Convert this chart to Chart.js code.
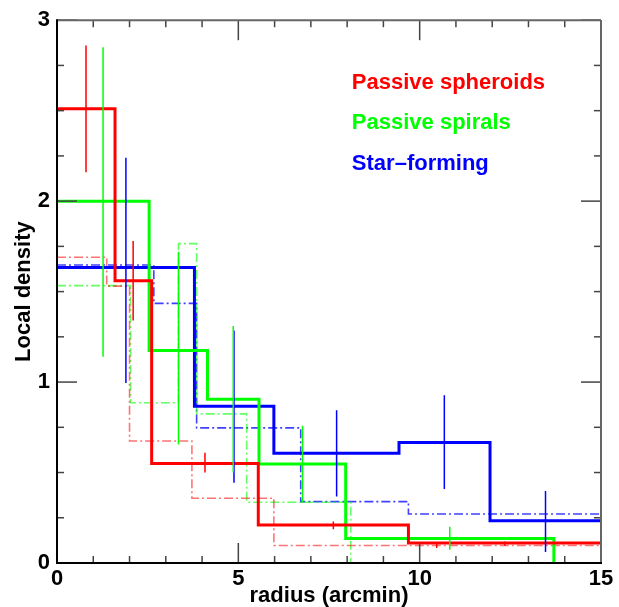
<!DOCTYPE html>
<html>
<head>
<meta charset="utf-8">
<script src="https://cdn.jsdelivr.net/npm/chart.js@4.4.1/dist/chart.umd.min.js"></script>
<style>
  html, body { margin: 0; padding: 0; background: #fff; }
  canvas { display: block; }
</style>
</head>
<body>
<canvas id="densityChart" width="619" height="607"></canvas>
<script>
// Passive spheroids (rojo): bordes de bin y densidad por bin
const spheroidEdges = [0, 1.6, 2.61, 5.55, 9.69, 15];
const spheroidValues = [2.51, 1.56, 0.55, 0.21, 0.11];
const spheroidAltEdges = [0, 1.37, 2.0, 3.72, 5.98, 15];
const spheroidAltValues = [1.69, 1.53, 0.674, 0.358, 0.097];
const spheroidErrX = [0.8, 2.1, 4.08, 7.62, 10.47, 12.35];
const spheroidErrLo = [2.16, 1.34, 0.50, 0.187, 0.083, 0.095];
const spheroidErrHi = [2.86, 1.78, 0.61, 0.229, 0.116, 0.119];

// Passive spirals (verde)
const spiralEdges = [0, 2.54, 4.15, 5.57, 7.96, 13.7];
const spiralValues = [2.0, 1.175, 0.905, 0.547, 0.136];
const spiralAltEdges = [0, 2.03, 3.35, 3.85, 5.23, 8.1];
const spiralAltValues = [1.533, 0.886, 1.765, 0.824, 0.336];
const spiralErrX = [1.27, 3.35, 4.86, 6.77, 10.83];
const spiralErrLo = [1.14, 0.655, 0.50, 0.334, 0.073];
const spiralErrHi = [2.85, 1.72, 1.31, 0.758, 0.20];

// Star-forming (azul)
const starEdges = [0, 3.79, 5.98, 9.43, 11.94, 15];
const starValues = [1.633, 0.866, 0.606, 0.666, 0.233];
const starAltEdges = [0, 2.67, 3.85, 6.72, 9.69, 15];
const starAltValues = [1.647, 1.435, 0.747, 0.339, 0.271];
const starErrX = [1.9, 4.88, 7.71, 10.68, 13.47];
const starErrLo = [0.995, 0.444, 0.367, 0.409, 0.061];
const starErrHi = [2.24, 1.285, 0.844, 0.927, 0.398];

// Etiquetas
const seriesNames = ["Passive spheroids", "Passive spirals", "Star\u2013forming"];
const xTickLabels = [0, 5, 10, 15];
const yTickLabels = [0, 1, 2, 3];

const FONT = "'Liberation Sans', Arial, sans-serif";
const RED = "#ff0000", GREEN = "#00ff00", BLUE = "#0000ff";

// Convierte bordes + valores en puntos para una linea escalonada
// (cada punto marca el final del bin, el salto vertical va antes)
function stepPoints(edges, values, endValue) {
    const pts = [{ x: edges[0], y: values[0] }];
    values.forEach((v, i) => pts.push({ x: edges[i + 1], y: v }));
    if (endValue !== undefined) pts.push({ x: edges[edges.length - 1], y: endValue });
    return pts;
}

// Barras de error verticales, separadas con huecos (null)
function errorPoints(xs, lo, hi) {
    const pts = [];
    xs.forEach((x, i) => {
        pts.push({ x: x, y: lo[i] }, { x: x, y: hi[i] }, { x: x, y: null });
    });
    return pts;
}

function errSet(data, color) {
    return { data: data, borderColor: color, borderWidth: 1.5, showLine: true, pointRadius: 0, spanGaps: false };
}
function solidSet(data, color) {
    return { data: data, borderColor: color, borderWidth: 3, showLine: true, pointRadius: 0, stepped: "after" };
}
function dashSet(data, color) {
    return { data: data, borderColor: color, borderWidth: 1.6, borderDash: [9, 3, 2, 3], showLine: true, pointRadius: 0, stepped: "after" };
}

// Marco, marcas interiores y leyenda en texto
const frameTicks = {
    id: "frameTicks",
    afterDatasetsDraw(chart) {
        const { ctx, chartArea: a, scales: { x, y } } = chart;
        ctx.save();
        const seg = (x1, y1, x2, y2) => { ctx.beginPath(); ctx.moveTo(x1, y1); ctx.lineTo(x2, y2); ctx.stroke(); };
        ctx.lineWidth = 1.5;
        ctx.strokeStyle = "#444";
        for (let v = 0; v <= 15; v += 1) {
            const px = x.getPixelForValue(v);
            const len = v % 5 === 0 ? 20 : 7;
            seg(px, a.bottom, px, a.bottom - len);
            seg(px, a.top, px, a.top + len);
        }
        for (let i = 0; i <= 12; i++) {
            const py = y.getPixelForValue(i * 0.25);
            const len = i % 4 === 0 ? 20 : 7;
            seg(a.left, py, a.left + len, py);
            seg(a.right, py, a.right - len, py);
        }
        ctx.lineWidth = 2;
        ctx.strokeStyle = "#666";
        seg(a.left, a.top, a.right, a.top);
        seg(a.right, a.top, a.right, a.bottom);
        ctx.strokeStyle = "#000";
        seg(a.left, a.top - 1, a.left, a.bottom + 1);
        seg(a.left - 1, a.bottom, a.right + 1, a.bottom);

        ctx.font = "bold 22px " + FONT;
        ctx.textBaseline = "alphabetic";
        ctx.textAlign = "left";
        const lx = x.getPixelForValue(8.13);
        [[seriesNames[0], RED, 2.62], [seriesNames[1], GREEN, 2.398], [seriesNames[2], BLUE, 2.174]].forEach(([t, c, v]) => {
            ctx.fillStyle = c;
            ctx.fillText(t, lx, y.getPixelForValue(v));
        });
        ctx.restore();
    }
};

const ctx = document.getElementById("densityChart").getContext("2d");
new Chart(ctx, {
    type: "scatter",
    data: {
        datasets: [
            errSet(errorPoints(spheroidErrX, spheroidErrLo, spheroidErrHi), RED),
            errSet(errorPoints(spiralErrX, spiralErrLo, spiralErrHi), GREEN),
            errSet(errorPoints(starErrX, starErrLo, starErrHi), BLUE),
            solidSet(stepPoints(spheroidEdges, spheroidValues), RED),
            solidSet(stepPoints(spiralEdges, spiralValues, 0), GREEN),
            solidSet(stepPoints(starEdges, starValues), BLUE),
            dashSet(stepPoints(spheroidAltEdges, spheroidAltValues), "rgba(255,0,0,0.55)"),
            dashSet(stepPoints(spiralAltEdges, spiralAltValues, 0), "rgba(0,255,0,0.6)"),
            dashSet(stepPoints(starAltEdges, starAltValues), "rgba(0,0,255,0.75)")
        ]
    },
    options: {
        responsive: false,
        animation: false,
        layout: { padding: { left: 0, top: 18, right: 18, bottom: 0 } },
        plugins: { legend: { display: false }, tooltip: { enabled: false } },
        scales: {
            x: {
                type: "linear",
                position: "bottom",
                min: 0,
                max: 15,
                afterFit: (s) => { s.height = 44; },
                afterBuildTicks: (s) => { s.ticks = xTickLabels.map(v => ({ value: v })); },
                grid: { display: false, drawTicks: false },
                border: { display: false },
                ticks: { padding: 3, maxRotation: 0, autoSkip: false, color: "#000", font: { family: FONT, size: 22, weight: "bold" } },
                title: { display: true, text: "radius (arcmin)", color: "#000", padding: { top: 0, bottom: 0 }, font: { family: FONT, size: 22, weight: "bold", lineHeight: 1 } }
            },
            y: {
                type: "linear",
                position: "left",
                min: 0,
                max: 3,
                afterFit: (s) => { s.width = 57; },
                afterBuildTicks: (s) => { s.ticks = yTickLabels.map(v => ({ value: v })); },
                grid: { display: false, drawTicks: false },
                border: { display: false },
                ticks: { padding: 7, color: "#000", font: { family: FONT, size: 22, weight: "bold" } },
                title: { display: true, text: "Local density", color: "#000", padding: { top: 13, bottom: 0 }, font: { family: FONT, size: 22, weight: "bold", lineHeight: 1 } }
            }
        }
    },
    plugins: [frameTicks]
});
</script>
</body>
</html>
